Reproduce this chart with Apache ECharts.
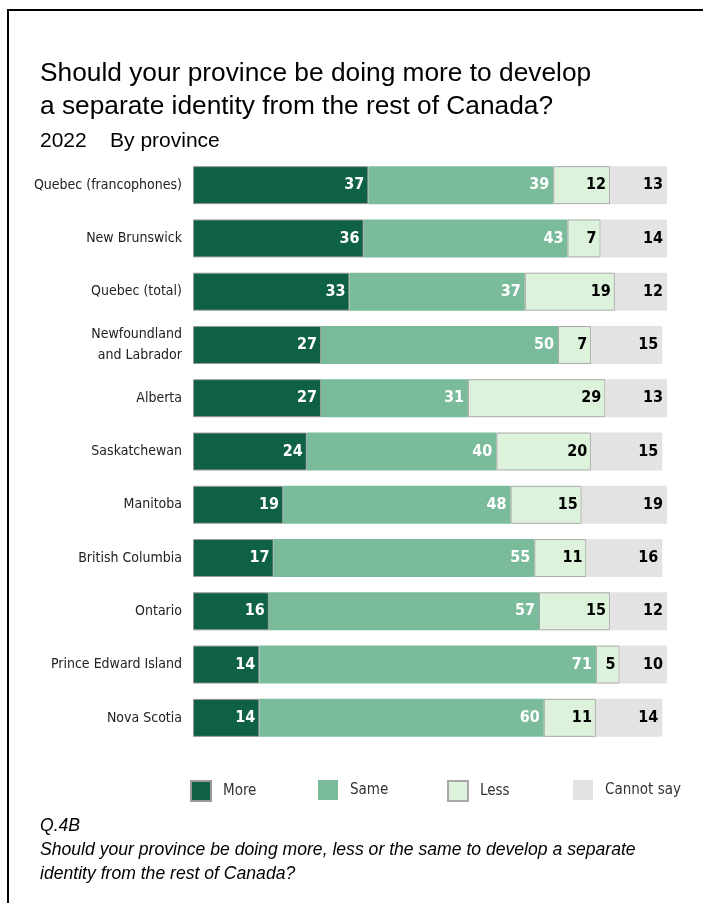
<!DOCTYPE html>
<html>
<head>
<meta charset="utf-8">
<script src="https://cdn.jsdelivr.net/npm/echarts@6/dist/echarts.min.js"></script>
<style>
html,body{margin:0;padding:0;background:#fff;}
#chart{width:703px;height:903px;}
</style>
</head>
<body>
<div id="chart"></div>
<script>
const categories = ['Quebec (francophones)', 'New Brunswick', 'Quebec (total)', 'Newfoundland\nand Labrador', 'Alberta', 'Saskatchewan', 'Manitoba', 'British Columbia', 'Ontario', 'Prince Edward Island', 'Nova Scotia'];
const moreVals = [37, 36, 33, 27, 27, 24, 19, 17, 16, 14, 14];
const sameVals = [39, 43, 37, 50, 31, 40, 48, 55, 57, 71, 60];
const lessVals = [12, 7, 19, 7, 29, 20, 15, 11, 15, 5, 11];
const cannotVals = [13, 14, 12, 15, 13, 15, 19, 16, 12, 10, 14];
const seriesNames = ['More', 'Same', 'Less', 'Cannot say'];

const narrow = '"Liberation Sans Narrow", "DejaVu Sans Condensed", sans-serif';
const sans = '"Liberation Sans", Arial, sans-serif';

function mkSeries(name, data, color, border, labelColor) {
  return {
    name: name, type: 'bar', stack: 'total', data: data, barWidth: 38,
    itemStyle: { color: color, borderColor: border || color, borderWidth: border ? 1 : 0 },
    label: { show: true, position: 'insideRight', distance: 4, color: labelColor,
      fontFamily: narrow, fontWeight: 'bold', fontSize: 16 },
    emphasis: { disabled: true }
  };
}
const legendLefts = [190, 318, 447, 573];
const chart = echarts.init(document.getElementById('chart'), null, { renderer: 'canvas' });
chart.setOption({
  animation: false,
  backgroundColor: '#fff',
  title: [
    { text: 'Should your province be doing more to develop\na separate identity from the rest of Canada?', left: 40, top: 57, padding: 0,
      textStyle: { fontFamily: sans, fontSize: 26.3, lineHeight: 33, fontWeight: 'normal', color: '#000' } },
    { text: '2022    By province', left: 40, top: 131, padding: 0,
      textStyle: { fontFamily: sans, fontSize: 21, fontWeight: 'normal', color: '#000' } },
    { text: 'Q.4B\nShould your province be doing more, less or the same to develop a separate\nidentity from the rest of Canada?', left: 40, top: 814, padding: 0,
      textStyle: { fontFamily: sans, fontSize: 17.6, lineHeight: 24, fontStyle: 'italic', fontWeight: 'normal', color: '#000' } }
  ],
  legend: seriesNames.map((n, i) => ({
    data: [n], left: legendLefts[i], top: 780, itemWidth: 20, itemHeight: 20, icon: 'rect',
    selectedMode: false, padding: 0,
    textStyle: { fontFamily: narrow, fontSize: 15, color: '#333', padding: [0, 0, 0, 7] }
  })),
  grid: { left: 193, width: 474, top: 158.5, height: 586, containLabel: false },
  xAxis: { type: 'value', min: 0, max: 100, show: false },
  yAxis: { type: 'category', data: categories, inverse: true,
    axisLine: { show: false }, axisTick: { show: false },
    axisLabel: { margin: 11, fontFamily: narrow, fontSize: 14, color: '#222', lineHeight: 21, align: 'right' } },
  graphic: [{ type: 'rect', shape: { x: 8, y: 10, width: 800, height: 1000 }, style: { fill: 'none', stroke: '#000', lineWidth: 2 }, silent: true }],
  series: [
    mkSeries('More', moreVals, '#0f6146', '#9a9a9a', '#fff'),
    mkSeries('Same', sameVals, '#79bb9b', null, '#fff'),
    mkSeries('Less', lessVals, '#dcf2da', '#a8a8a8', '#000'),
    mkSeries('Cannot say', cannotVals, '#e3e3e3', null, '#000')
  ]
});
</script>
</body>
</html>
